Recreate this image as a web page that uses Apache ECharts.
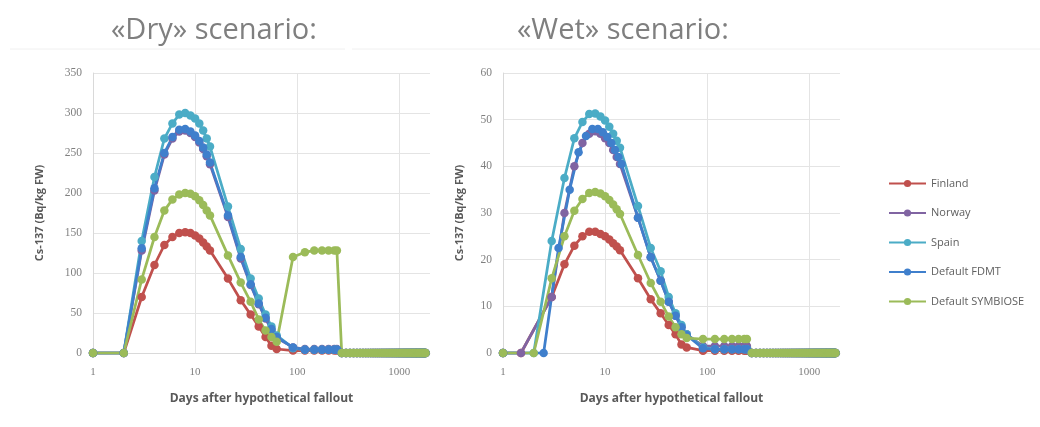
<!DOCTYPE html>
<html>
<head>
<meta charset="utf-8">
<script src="https://cdn.jsdelivr.net/npm/echarts@6/dist/echarts.min.js"></script>
<style>
html,body{margin:0;padding:0;background:#fff;}
#chart{width:1040px;height:427px;}
</style>
</head>
<body>
<div id="chart"></div>
<script>
// ---- Data ----
const seriesNames = ['Finland', 'Norway', 'Spain', 'Default FDMT', 'Default SYMBIOSE'];
const seriesColors = ['#c0504d', '#8064a2', '#4bacc6', '#3f7fcc', '#9bbb59'];
const xTickLabels = ['1', '10', '100', '1000'];

const earlyDays = [1, 2, 3, 4, 5, 6, 7, 8, 9, 10, 11, 12, 13, 14];
const wetEarlyDaysA = [1, 1.5, 3, 4, 5, 6, 7, 8, 9, 10, 11, 12, 13, 14];
const wetEarlyDaysB = [1, 2.5, 3.5, 4.5, 5.5, 6.5, 7.5, 8.5, 9.5, 10.5, 11.5, 12.5, 13.5, 14.5];
const lateDays = [21, 28, 35, 42, 49, 56, 63, 91, 119, 147, 175, 203, 231, 245];
const tailDays = [273, 301, 329, 357, 385, 413, 441, 469, 497, 525, 553, 581, 609, 637,
  665, 693, 721, 749, 777, 805, 833, 861, 889, 917, 945, 973, 1001, 1029,
  1057, 1085, 1113, 1141, 1169, 1197, 1225, 1253, 1281, 1309, 1337, 1365, 1393, 1421,
  1449, 1477, 1505, 1533, 1561, 1589, 1617, 1645, 1673, 1701, 1729, 1757, 1785, 1813];
const tailValues = [0, 0, 0, 0, 0, 0, 0, 0, 0, 0, 0, 0, 0, 0,
  0, 0, 0, 0, 0, 0, 0, 0, 0, 0, 0, 0, 0, 0,
  0, 0, 0, 0, 0, 0, 0, 0, 0, 0, 0, 0, 0, 0,
  0, 0, 0, 0, 0, 0, 0, 0, 0, 0, 0, 0, 0, 0];

// «Dry» scenario (Bq/kg FW)
const dryFinland  = [0, 0, 70, 110, 135, 145, 150, 151, 150, 147, 143, 138, 133, 128, 93, 66, 48, 33, 20, 9, 5, 3, 3, 3, 3, 3, 3, 3];
const dryNorway   = [0, 0, 128, 203, 248, 268, 277, 278, 275, 270, 263, 255, 246, 236, 170, 118, 85, 61, 43, 29, 19, 7, 5, 5, 5, 5, 5, 5];
const drySpain    = [0, 0, 140, 220, 268, 287, 298, 300, 297, 293, 287, 278, 268, 258, 183, 130, 93, 68, 48, 33, 22, 6, 4, 4, 4, 4, 4, 4];
const dryFDMT     = [0, 0, 131, 206, 250, 270, 279, 280, 277, 272, 265, 257, 248, 238, 172, 120, 86, 62, 44, 30, 20, 7, 4, 4, 4, 4, 4, 4];
const drySymbiose = [0, 0, 92, 145, 178, 192, 198, 200, 199, 196, 191, 185, 178, 172, 122, 88, 64, 42, 28, 20, 14, 120, 126, 128, 128, 128, 128, 128];

// «Wet» scenario (Bq/kg FW)
const wetFinland  = [0, 0, 12, 19, 23, 25, 26, 26, 25.5, 25, 24.3, 23.5, 22.8, 22, 16, 11.5, 8.5, 6, 4, 1.8, 1.2, 0.5, 0.5, 0.5, 0.5, 0.5, 0.5, 0.5];
const wetNorway   = [0, 0, 12, 30, 40, 45, 47, 47.5, 47, 46, 45, 43.5, 42, 40.5, 29, 20.5, 15.5, 11, 8, 5.5, 4, 1.5, 1.5, 1.5, 1.5, 1.5, 1.5, 1.5];
const wetSpain    = [0, 0, 24, 37.5, 46, 49.5, 51.2, 51.3, 50.7, 49.8, 48.5, 47, 45.5, 44, 31.5, 22.5, 17.5, 12, 8.5, 6, 4, 1.2, 0.8, 0.8, 0.8, 0.8, 0.8, 0.8];
const wetFDMT     = [0, 0, 22.5, 35, 43, 46.5, 48, 48, 47.3, 46.3, 45, 43.5, 42, 40.5, 29, 20.5, 15.5, 11, 8, 5.5, 3.8, 1, 0.8, 0.8, 0.8, 0.8, 0.8, 0.8];
const wetSymbiose = [0, 0, 16, 25, 30.5, 33, 34.3, 34.5, 34.2, 33.6, 32.8, 31.8, 30.8, 29.8, 21, 15, 11, 7.8, 5.5, 4, 3.2, 3, 3, 3, 3, 3, 3, 3];

// ---- Build ----
function pairs(early, vals) {
  const days = early.concat(lateDays, tailDays);
  const v = vals.concat(tailValues);
  return days.map((d, i) => [d, v[i]]);
}
const dryData = [
  pairs(earlyDays, dryFinland), pairs(earlyDays, dryNorway), pairs(earlyDays, drySpain),
  pairs(earlyDays, dryFDMT), pairs(earlyDays, drySymbiose)
];
const wetData = [
  pairs(wetEarlyDaysA, wetFinland), pairs(wetEarlyDaysA, wetNorway), pairs(earlyDays, wetSpain),
  pairs(wetEarlyDaysB, wetFDMT), pairs(earlyDays, wetSymbiose)
];

const tickFont = 'Liberation Serif';
const nameFont = 'Open Sans';

function makeX(idx) {
  return {
    type: 'log', logBase: 10, min: 1, max: 2000, gridIndex: idx,
    name: 'Days after hypothetical fallout', nameLocation: 'middle', nameGap: 40,
    nameTextStyle: { fontWeight: 'bold', fontSize: 12, color: '#595959', fontFamily: nameFont },
    axisLine: { show: true, lineStyle: { color: '#d9d9d9', width: 1 } },
    axisTick: { show: false },
    axisLabel: {
      color: '#7f7f7f', fontSize: 11, fontFamily: tickFont, margin: 14, showMaxLabel: false,
      formatter: v => { const s = String(Math.round(v)); return xTickLabels.indexOf(s) >= 0 ? s : ''; }
    },
    splitLine: { show: true, showMinLine: false, showMaxLine: false, lineStyle: { color: '#e4e4e4', width: 1 } }
  };
}
function makeY(idx, max, interval, gap) {
  return {
    type: 'value', min: 0, max: max, interval: interval, gridIndex: idx,
    name: 'Cs-137 (Bq/kg FW)', nameLocation: 'middle', nameGap: gap, nameRotate: 90,
    nameTextStyle: { fontWeight: 'bold', fontSize: 11, color: '#595959', fontFamily: nameFont },
    axisLine: { show: true, lineStyle: { color: '#d9d9d9', width: 1 } },
    axisTick: { show: false },
    axisLabel: { color: '#7f7f7f', fontSize: 11.5, fontFamily: tickFont, margin: 11 },
    splitLine: { show: true, lineStyle: { color: '#e4e4e4', width: 1 } }
  };
}

const series = [];
[dryData, wetData].forEach((set, gi) => {
  set.forEach((data, si) => {
    series.push({
      name: seriesNames[si], type: 'line', xAxisIndex: gi, yAxisIndex: gi,
      data: data, symbol: 'circle', symbolSize: 8.5, showSymbol: true,
      lineStyle: { color: seriesColors[si], width: 2.75 },
      itemStyle: { color: seriesColors[si] },
      emphasis: { disabled: true }, animation: false
    });
  });
});

const chart = echarts.init(document.getElementById('chart'), null, { renderer: 'canvas' });
chart.setOption({
  backgroundColor: '#ffffff',
  animation: false,
  title: [
    { text: '«Dry» scenario:', left: 106, top: 11, textStyle: { fontSize: 29, color: '#7f7f7f', fontWeight: 'normal', fontFamily: nameFont } },
    { text: '«Wet» scenario:', left: 512, top: 11, textStyle: { fontSize: 29, color: '#7f7f7f', fontWeight: 'normal', fontFamily: nameFont } }
  ],
  legend: {
    orient: 'vertical', left: 883, top: 173, itemWidth: 37, itemHeight: 9, itemGap: 18.5,
    data: seriesNames,
    textStyle: { fontSize: 11, color: '#606060', fontFamily: nameFont }
  },
  grid: [
    { left: 93, top: 73, width: 337, height: 280, containLabel: false },
    { left: 503, top: 73, width: 337, height: 280, containLabel: false }
  ],
  xAxis: [makeX(0), makeX(1)],
  yAxis: [makeY(0, 350, 50, 48), makeY(1, 60, 10, 38)],
  graphic: [
    { type: 'line', shape: { x1: 10, y1: 49, x2: 345, y2: 49 }, style: { stroke: '#f0f0f0', lineWidth: 1 }, silent: true },
    { type: 'line', shape: { x1: 352, y1: 49, x2: 1040, y2: 49 }, style: { stroke: '#f0f0f0', lineWidth: 1 }, silent: true }
  ],
  series: series
});
</script>
</body>
</html>
